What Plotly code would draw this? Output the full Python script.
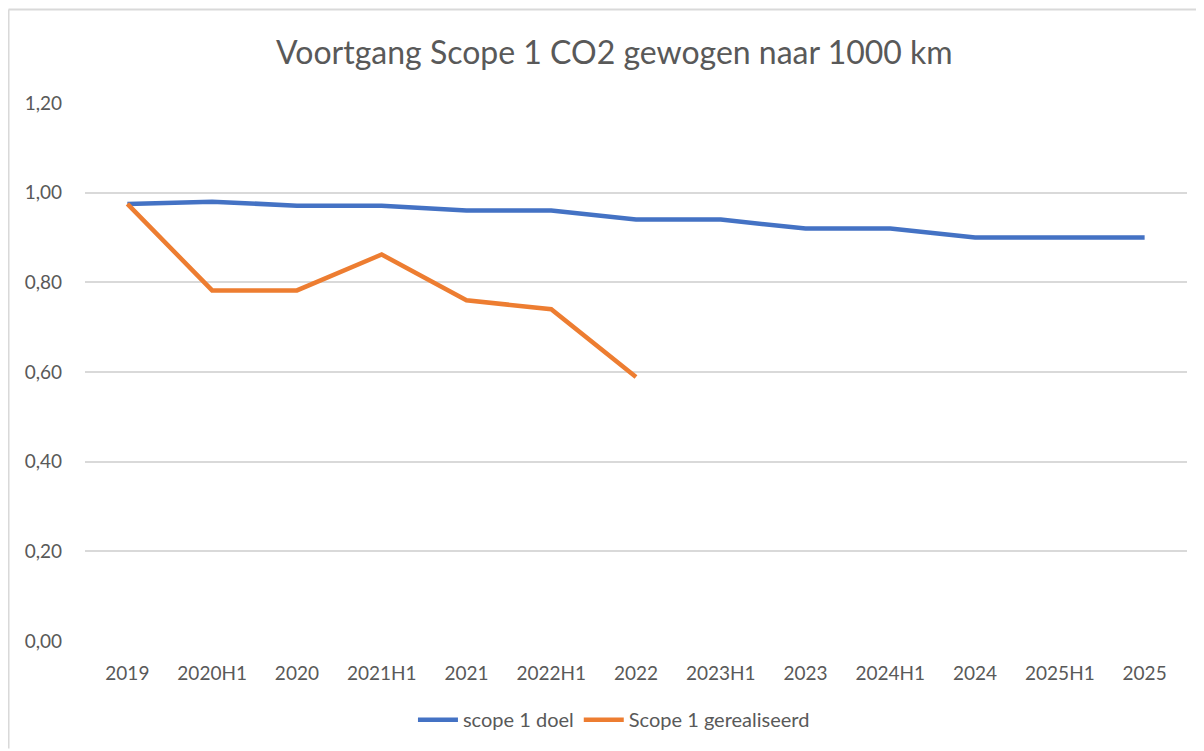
import plotly.graph_objects as go

periods = ["2019", "2020H1", "2020", "2021H1", "2021", "2022H1", "2022",
           "2023H1", "2023", "2024H1", "2024", "2025H1", "2025"]
doel = [0.975, 0.98, 0.971, 0.971, 0.96, 0.96, 0.94,
        0.94, 0.92, 0.92, 0.90, 0.90, 0.90]
gerealiseerd = [0.975, 0.782, 0.782, 0.862, 0.76, 0.74, 0.589]

BLUE = "#4472C4"
ORANGE = "#ED7D31"
GREY_TXT = "#595959"
GRID = "#D9D9D9"
FONT = "Lato, Open Sans, sans-serif"

fig = go.Figure()
fig.add_trace(go.Scatter(x=periods, y=doel, name="scope 1 doel", mode="lines",
                         line=dict(color=BLUE, width=4.5)))
fig.add_trace(go.Scatter(x=periods[:len(gerealiseerd)], y=gerealiseerd,
                         name="Scope 1 gerealiseerd", mode="lines",
                         line=dict(color=ORANGE, width=4.5)))

fig.update_xaxes(type="category", categoryorder="array", categoryarray=periods,
                 range=[-0.5, len(periods) - 0.5], showgrid=False, showline=False,
                 zeroline=False, tickfont=dict(size=19, color=GREY_TXT, family=FONT),
                 ticklabelstandoff=19)
fig.update_yaxes(range=[0, 1.2], dtick=0.2, tickformat=".2f", showgrid=True,
                 gridcolor=GRID, gridwidth=1.5, zeroline=False, showline=False,
                 tickfont=dict(size=19, color=GREY_TXT, family=FONT),
                 ticklabelstandoff=22)

# light frame of the chart area (top and left edge visible)
fig.add_shape(type="line", xref="paper", yref="paper", x0=-0.0694, x1=1.02,
              y0=1.1738, y1=1.1738, line=dict(color=GRID, width=2))
fig.add_shape(type="line", xref="paper", yref="paper", x0=-0.0694, x1=-0.0694,
              y0=-0.2, y1=1.1738, line=dict(color=GRID, width=2))

# page has an 8px body margin, so the figure is 8px smaller
fig.update_layout(
    width=1196, height=743,
    margin=dict(l=77, r=17, t=95, b=107),
    paper_bgcolor="white", plot_bgcolor="white",
    separators=",.",
    title=dict(text="Voortgang Scope 1 CO2 gewogen naar 1000 km", x=0.507,
               xanchor="center", y=0.94, yanchor="middle",
               font=dict(size=32, color=GREY_TXT, family=FONT)),
    legend=dict(orientation="h", x=0.48, xanchor="center", y=-0.11,
                yanchor="top", font=dict(size=20, color=GREY_TXT, family=FONT),
                itemwidth=40),
    showlegend=True,
)

fig.write_html("out.html")
